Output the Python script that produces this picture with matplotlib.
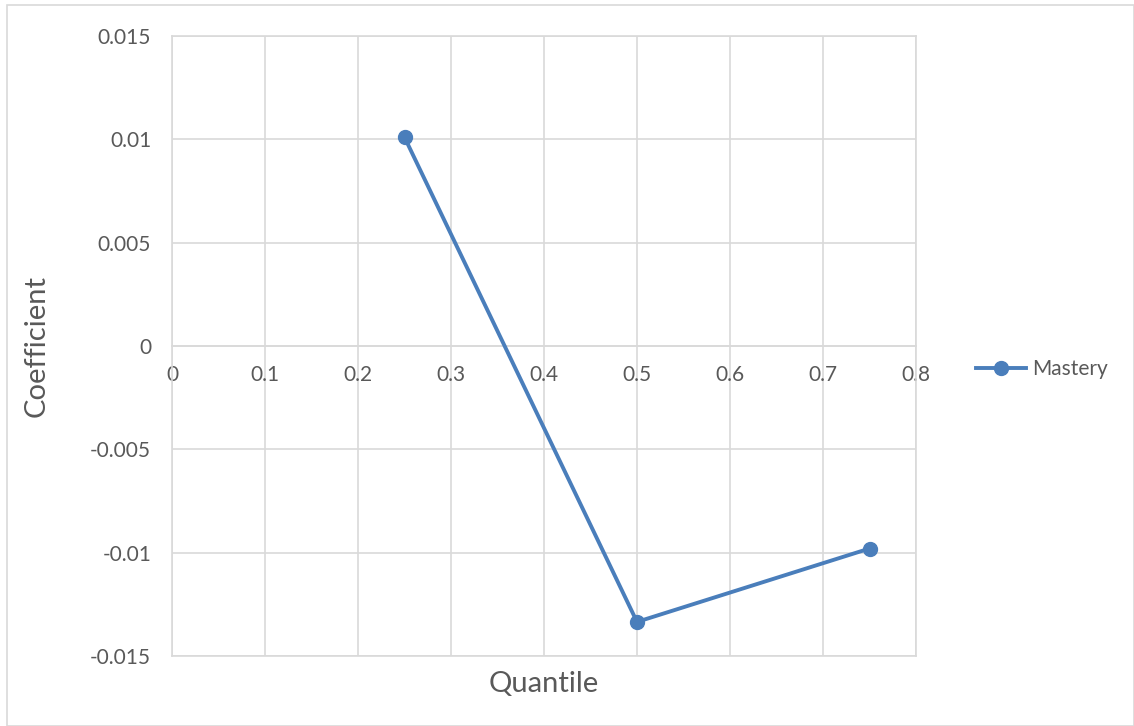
import matplotlib.pyplot as plt
from matplotlib.patches import Rectangle

quantile = [0.25, 0.5, 0.75]
mastery = [0.0101, -0.01335, -0.0098]
x_ticks = [0, 0.1, 0.2, 0.3, 0.4, 0.5, 0.6, 0.7, 0.8]
y_ticks = [-0.015, -0.01, -0.005, 0, 0.005, 0.01, 0.015]
y_labels = ['-0.015', '-0.01', '-0.005', '0', '0.005', '0.01', '0.015']

plt.rcParams['font.family'] = ['Lato', 'DejaVu Sans']
grey = '#d9d9d9'
txt = '#595959'
blue = '#4a7ebb'

fig = plt.figure(figsize=(11.34, 7.26), dpi=100)
fig.patches.append(Rectangle((7 / 1134, 0), 1 - 7 / 1134, 1 - 5 / 726, transform=fig.transFigure,
                             fill=False, edgecolor=grey, linewidth=1.2))
ax = fig.add_axes([172 / 1134, 1 - 656 / 726, 744 / 1134, 620 / 726])

ax.plot(quantile, mastery, color=blue, linewidth=2.8, marker='o', markersize=10,
        label='Mastery', zorder=3)

ax.set_xlim(0, 0.8)
ax.set_ylim(-0.015, 0.015)
ax.set_xticks(x_ticks)
ax.set_xticklabels([f'{v:g}' for v in x_ticks])
ax.set_yticks(y_ticks)
ax.set_yticklabels(y_labels)
ax.grid(True, color=grey, linewidth=1.2, zorder=0)
ax.set_axisbelow(True)

for s in ax.spines.values():
    s.set_color(grey)
    s.set_linewidth(1.2)
# x axis crosses at zero, like a spreadsheet chart
ax.spines['bottom'].set_position(('data', 0))
ax.axhline(-0.015, color=grey, linewidth=1.2, clip_on=False, zorder=1)

ax.tick_params(length=0, labelsize=15, labelcolor=txt)
ax.tick_params(axis='x', pad=14)
ax.tick_params(axis='y', pad=15)

ax.set_xlabel('Quantile', fontsize=21, color=txt, labelpad=0)
ax.xaxis.set_label_coords(0.5, -0.025)
ax.set_ylabel('Coefficient', fontsize=21, color=txt)
ax.yaxis.set_label_coords(-0.165, 0.5)

ax.legend(loc='center left', bbox_to_anchor=(1.055, 0.463), frameon=False, fontsize=15,
          labelcolor=txt, handlelength=2.4, handletextpad=0.3)

fig.savefig('out.png', dpi=100)
